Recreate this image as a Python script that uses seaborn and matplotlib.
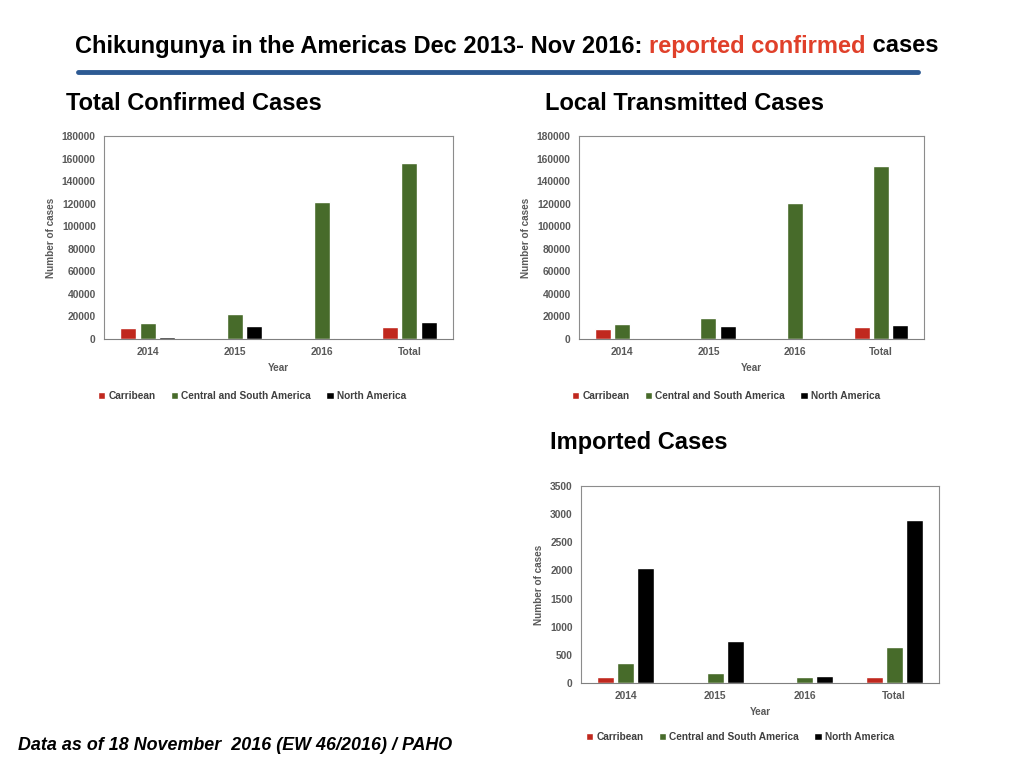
import numpy as np
import pandas as pd
import seaborn as sns
from matplotlib import pyplot as plt

sns.set_theme(style="white")
plt.rcParams["font.family"] = ["Liberation Sans", "DejaVu Sans"]

# data
years = ["2014", "2015", "2016", "Total"]
regions = ["Carribean", "Central and South America", "North America"]
colors = ["#c0281e", "#476b2a", "#000000"]

total_carib = [9700, 1200, 500, 10600]
total_csa = [14400, 21800, 121100, 156500]
total_na = [2000, 11800, 600, 15300]

local_carib = [9100, 900, 800, 10600]
local_csa = [13600, 18900, 120700, 153700]
local_na = [900, 11200, 800, 12100]

imp_carib = [107, 18, 0, 107]
imp_csa = [355, 178, 107, 634]
imp_na = [2037, 740, 124, 2890]


def long_df(carib, csa, na):
    d = pd.DataFrame({"Year": years, regions[0]: carib, regions[1]: csa, regions[2]: na})
    return d.melt("Year", var_name="Region", value_name="Cases")


fig = plt.figure(figsize=(10.24, 7.68), dpi=100)
W, H = 1024, 768


def px_axes(l, t, r, b):
    return fig.add_axes([l / W, 1 - b / H, (r - l) / W, (b - t) / H])


def panel(ax, df, ymax, step, legend_xy):
    sns.barplot(data=df, x="Year", y="Cases", hue="Region", palette=colors,
                width=0.67, gap=0.17, ax=ax, saturation=1, legend=True)
    ax.set_ylim(0, ymax)
    ticks = np.arange(0, ymax + 1, step)
    ax.set_yticks(ticks)
    ax.set_yticklabels([str(int(v)) for v in ticks])
    ax.tick_params(axis="both", length=0, labelsize=7.4, labelcolor="#595959", pad=6)
    for lab in ax.get_xticklabels() + ax.get_yticklabels():
        lab.set_fontweight("bold")
    ax.set_xlabel("Year", fontsize=7.2, fontweight="bold", color="#595959", labelpad=4)
    ax.set_ylabel("Number of cases", fontsize=7.2, fontweight="bold", color="#595959", labelpad=4)
    for s in ax.spines.values():
        s.set_color("#8c8c8c")
        s.set_linewidth(0.8)
    ax.spines["bottom"].set_color("#7f7f7f")
    ax.legend(loc="center", bbox_to_anchor=(legend_xy[0] / W, 1 - legend_xy[1] / H),
              bbox_transform=fig.transFigure, ncol=3, frameon=False,
              handlelength=0.75, handleheight=0.75, handletextpad=0.3,
              columnspacing=1.5, labelcolor="#404040",
              prop={"weight": "bold", "size": 7.3})


ax1 = px_axes(104, 136, 453, 339)
panel(ax1, long_df(total_carib, total_csa, total_na), 180000, 20000, (252, 396))
ax2 = px_axes(579, 136, 924, 339)
panel(ax2, long_df(local_carib, local_csa, local_na), 180000, 20000, (726, 396))
ax3 = px_axes(581, 486, 939, 683)
panel(ax3, long_df(imp_carib, imp_csa, imp_na), 3500, 500, (740, 737))

# titles
ty = 1 - 46 / H
t1 = fig.text(75 / W, ty, "Chikungunya in the Americas Dec 2013- Nov 2016: ",
              fontsize=17, fontweight="bold", va="center", ha="left", color="black")
fig.canvas.draw()
bb = t1.get_window_extent()
t2 = fig.text(bb.x1 / W, ty, "reported confirmed",
              fontsize=17, fontweight="bold", va="center", ha="left", color="#e0402a")
fig.canvas.draw()
bb2 = t2.get_window_extent()
fig.text(bb2.x1 / W, ty, " cases",
         fontsize=17, fontweight="bold", va="center", ha="left", color="black")

fig.add_artist(plt.Line2D([78 / W, 918 / W], [1 - 72 / H, 1 - 72 / H], color="#2d5a93", lw=3.5))

fig.text(66 / W, 1 - 103 / H, "Total Confirmed Cases", fontsize=17, fontweight="bold",
         va="center", color="black")
fig.text(545 / W, 1 - 103 / H, "Local Transmitted Cases", fontsize=17, fontweight="bold",
         va="center", color="black")
fig.text(550 / W, 1 - 443 / H, "Imported Cases", fontsize=17, fontweight="bold",
         va="center", color="black")
fig.text(18 / W, 1 - 745 / H, "Data as of 18 November  2016 (EW 46/2016) / PAHO",
         fontsize=12.9, fontweight="bold", style="italic", va="center", color="black")

plt.savefig("out.png", dpi=100)
